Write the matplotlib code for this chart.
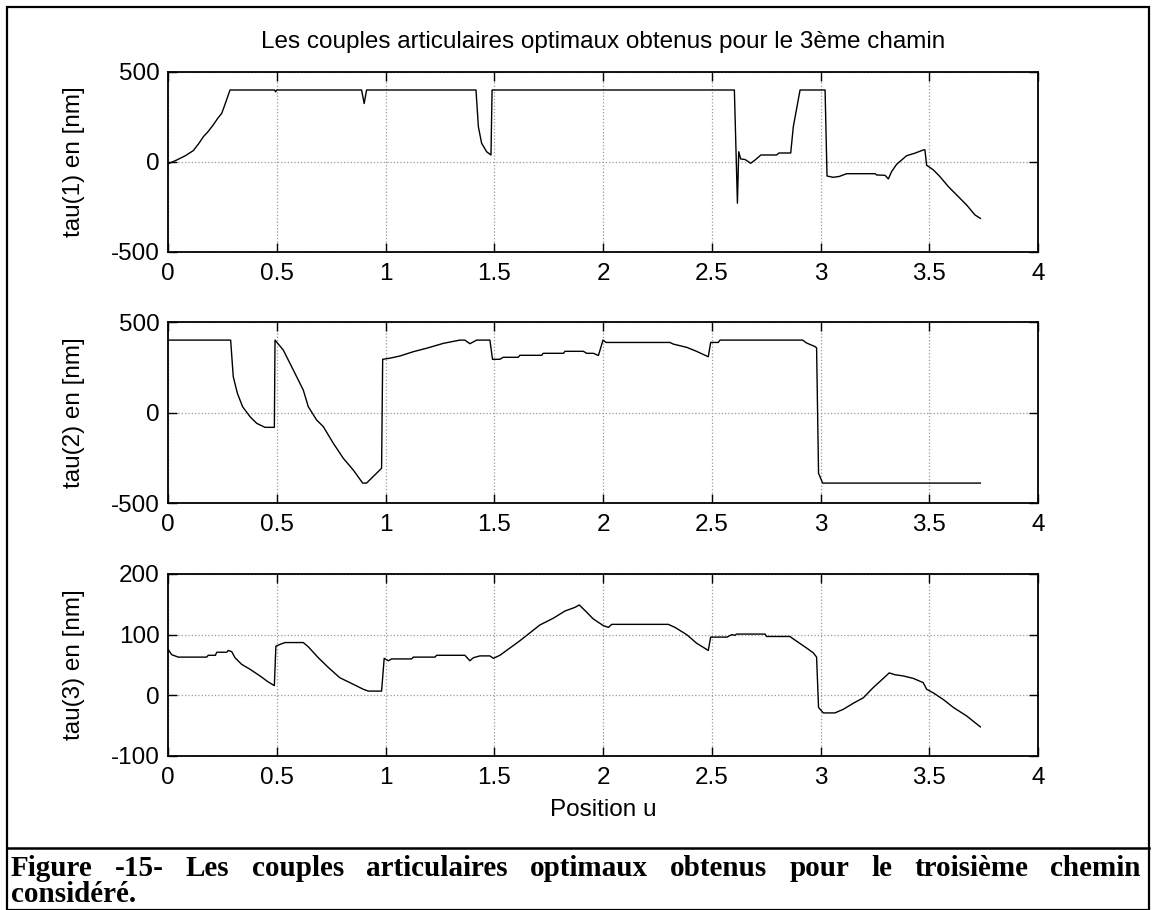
import matplotlib
matplotlib.use("Agg")
import matplotlib.pyplot as plt
from matplotlib.patches import Rectangle
from matplotlib.lines import Line2D

plt.rcParams["font.family"] = ["Liberation Sans", "DejaVu Sans"]

# Data (position u, torque)
u1 = [0, 0.02, 0.04, 0.08, 0.116, 0.14, 0.163, 0.185, 0.208, 0.23, 0.247, 0.265, 0.285,
      0.49, 0.495, 0.50, 0.89, 0.902, 0.913, 1.416, 1.427, 1.442, 1.465, 1.485, 1.49,
      2.604, 2.618, 2.624, 2.633, 2.653, 2.679, 2.699, 2.726, 2.798, 2.809, 2.863, 2.875,
      2.906, 3.021, 3.030, 3.059, 3.087, 3.120, 3.251, 3.258, 3.297, 3.312, 3.327, 3.350,
      3.396, 3.434, 3.473, 3.480, 3.488, 3.519, 3.549, 3.588, 3.626, 3.672, 3.710, 3.735]
tau1 = [-10, 0, 11, 35, 63, 100, 141, 170, 206, 245, 270, 330, 400,
        400, 390, 400, 400, 325, 400, 400, 196, 104, 57, 39, 400,
        400, -229, 57, 17, 14, -7, 11, 39, 39, 50, 50, 196,
        400, 400, -78, -85, -80, -65, -65, -72, -74, -94, -53, -13,
        35, 49, 67, 68, -18, -44, -81, -137, -183, -239, -294, -313]

u2 = [0, 0.288, 0.300, 0.319, 0.343, 0.377, 0.408, 0.446, 0.489, 0.492, 0.530, 0.576,
      0.622, 0.645, 0.683, 0.714, 0.760, 0.806, 0.852, 0.895, 0.913, 0.982, 0.987, 1.020,
      1.066, 1.128, 1.189, 1.266, 1.342, 1.365, 1.388, 1.419, 1.480, 1.492, 1.526, 1.541,
      1.610, 1.618, 1.718, 1.725, 1.818, 1.825, 1.910, 1.925, 1.956, 1.979, 2.000, 2.014,
      2.308, 2.323, 2.385, 2.430, 2.484, 2.495, 2.530, 2.538, 2.918, 2.936, 2.975, 2.982,
      2.991, 3.010, 3.735]
tau2 = [400, 400, 198, 106, 32, -23, -60, -82, -82, 400, 345, 235,
        124, 32, -41, -78, -170, -253, -318, -390, -390, -308, 294, 300,
        312, 336, 355, 382, 400, 400, 380, 400, 400, 294, 294, 305,
        305, 316, 316, 327, 327, 338, 338, 327, 327, 315, 400, 387,
        387, 378, 360, 338, 308, 387, 387, 400, 400, 384, 364, 357,
        -336, -390, -390]

u3 = [0, 0.017, 0.047, 0.178, 0.185, 0.218, 0.224, 0.270, 0.277, 0.293, 0.308, 0.339,
      0.377, 0.423, 0.461, 0.489, 0.496, 0.515, 0.538, 0.622, 0.645, 0.691, 0.737, 0.790,
      0.836, 0.898, 0.921, 0.982, 0.994, 1.013, 1.028, 1.120, 1.128, 1.228, 1.235, 1.365,
      1.388, 1.404, 1.434, 1.480, 1.496, 1.526, 1.572, 1.618, 1.664, 1.710, 1.771, 1.825,
      1.871, 1.891, 1.925, 1.955, 2.001, 2.025, 2.040, 2.300, 2.331, 2.385, 2.430, 2.484,
      2.495, 2.570, 2.592, 2.607, 2.614, 2.745, 2.752, 2.859, 2.883, 2.936, 2.967, 2.982,
      2.991, 3.013, 3.066, 3.105, 3.151, 3.197, 3.243, 3.289, 3.316, 3.342, 3.380, 3.426,
      3.472, 3.488, 3.519, 3.565, 3.611, 3.672, 3.735]
tau3 = [76, 67, 63, 63, 66, 66, 71, 71, 74, 72, 62, 51,
        43, 32, 22, 16, 81, 84, 87, 87, 80, 62, 46, 29,
        21, 10, 7, 7, 61, 57, 60, 60, 63, 63, 66, 66,
        57, 62, 65, 65, 61, 66, 78, 90, 103, 116, 127, 139,
        145, 149, 137, 126, 115, 112, 117, 117, 112, 100, 86, 74,
        96, 96, 100, 99, 101, 101, 97, 97, 91, 78, 70, 63,
        -20, -29, -29, -23, -13, -4, 13, 28, 37, 34, 32, 28,
        21, 10, 4, -7, -20, -34, -52]

series = [(u1, tau1), (u2, tau2), (u3, tau3)]
ylabels = ["tau(1) en [nm]", "tau(2) en [nm]", "tau(3) en [nm]"]
ylims = [(-500, 500), (-500, 500), (-100, 200)]
yticks = [[-500, 0, 500], [-500, 0, 500], [-100, 0, 100, 200]]
xticks = [0, 0.5, 1, 1.5, 2, 2.5, 3, 3.5, 4]
xticklabels = ["0", "0.5", "1", "1.5", "2", "2.5", "3", "3.5", "4"]

W, H = 1152, 910
fig = plt.figure(figsize=(W / 100, H / 100), dpi=100)

# axes boxes in pixels: (top, bottom)
boxes = [(72, 252), (322, 503), (574, 756)]
left_px, right_px = 168, 1038
fs = 17.5

axes = []
for i, (top, bot) in enumerate(boxes):
    ax = fig.add_axes([left_px / W, 1 - bot / H, (right_px - left_px) / W, (bot - top) / H])
    u, t = series[i]
    ax.plot(u, t, color="black", lw=1.0)
    ax.set_xlim(0, 4)
    ax.set_ylim(*ylims[i])
    ax.set_xticks(xticks)
    ax.set_xticklabels(xticklabels)
    ax.set_yticks(yticks[i])
    ax.set_yticklabels([str(v) for v in yticks[i]])
    ax.tick_params(direction="in", length=6.5, width=1.0, top=True, right=True,
                   labelsize=fs, colors="black")
    ax.tick_params(axis="x", pad=8)
    ax.tick_params(axis="y", pad=6)
    ax.grid(True, linestyle=":", color="0.6", lw=0.9)
    for s in ax.spines.values():
        s.set_linewidth(1.3)
    ax.set_ylabel(ylabels[i], fontsize=fs)
    ax.yaxis.set_label_coords(-0.0954, 0.5)
    axes.append(ax)

axes[2].set_xlabel("Position u", fontsize=fs)
axes[2].xaxis.set_label_coords(0.5, -0.297)
axes[2].xaxis.label.set_va("center")

fig.text((left_px + right_px) / 2 / W, 1 - 42 / H,
         "Les couples articulaires optimaux obtenus pour le 3ème chamin",
         ha="center", va="center", fontsize=fs)

# frame around the figure and the caption
fig.add_artist(Rectangle((7 / W, 0), (1149 - 7) / W, 1 - 7 / H, transform=fig.transFigure,
                         fill=False, edgecolor="black", lw=1.6))
fig.add_artist(Line2D([7 / W, 1149 / W], [1 - 848 / H, 1 - 848 / H],
                      transform=fig.transFigure, color="black", lw=1.8))

# caption, first line justified
cap_words = ["Figure", "-15-", "Les", "couples", "articulaires", "optimaux", "obtenus",
             "pour", "le", "troisième", "chemin"]
cap_kw = dict(fontsize=21, fontweight="bold", family=["Liberation Serif", "DejaVu Serif"],
              va="baseline", ha="left")
renderer = fig.canvas.get_renderer()
x0, x1 = 11, 1141
y_base1 = 1 - 876 / H
texts = [fig.text(0, y_base1, w, **cap_kw) for w in cap_words]
widths = [t.get_window_extent(renderer).width for t in texts]
gap = (x1 - x0 - sum(widths)) / (len(cap_words) - 1)
x = x0
for t, w in zip(texts, widths):
    t.set_x(x / W)
    x += w + gap
fig.text(x0 / W, 1 - 902 / H, "considéré.", **cap_kw)

fig.savefig("out.png", dpi=100)
